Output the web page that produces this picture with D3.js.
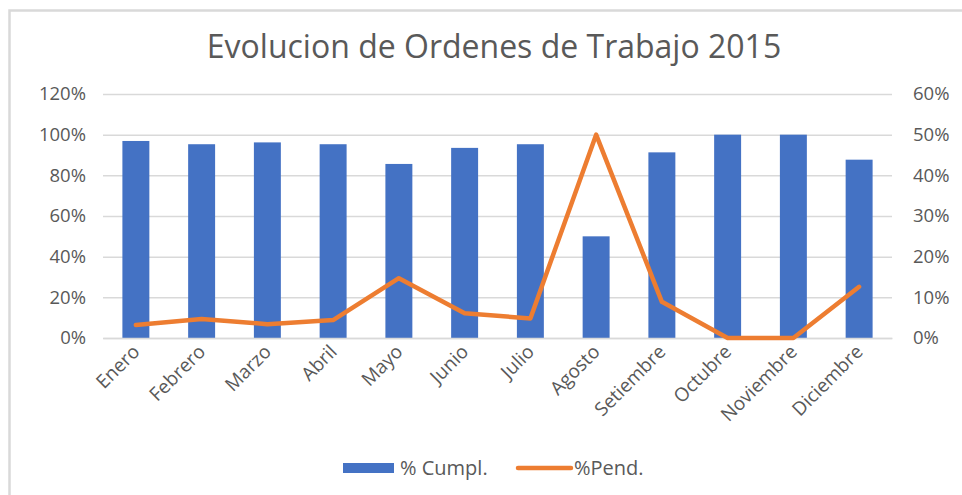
<!DOCTYPE html>
<html>
<head>
<meta charset="utf-8">
<script src="https://cdn.jsdelivr.net/npm/d3@7"></script>
<style>
  body { margin: 0; background: #fff; }
  text { font-family: "Open Sans", sans-serif; fill: #595959; }
</style>
</head>
<body>
<svg id="chart" width="962" height="495"></svg>
<script>
// Data
const months = ['Enero', 'Febrero', 'Marzo', 'Abril', 'Mayo', 'Junio', 'Julio', 'Agosto', 'Setiembre', 'Octubre', 'Noviembre', 'Diciembre'];
const cumpl = [0.969, 0.953, 0.962, 0.953, 0.856, 0.935, 0.953, 0.50, 0.913, 1.0, 1.0, 0.877];
const pend = [0.032, 0.047, 0.034, 0.044, 0.147, 0.061, 0.048, 0.50, 0.089, 0.0, 0.0, 0.126];
const leftTicks = [0, 0.2, 0.4, 0.6, 0.8, 1.0, 1.2];
const rightTicks = [0, 0.1, 0.2, 0.3, 0.4, 0.5, 0.6];

const svg = d3.select('#chart');

// outer frame (only top and left edges are visible)
svg.append('path')
  .attr('d', 'M9.5,1000 L9.5,10.5 L1000,10.5')
  .attr('fill', 'none')
  .attr('stroke', '#d9d9d9')
  .attr('stroke-width', 2.5);

const plot = {left: 103, right: 892, top: 94, bottom: 338};

const x = d3.scaleBand()
  .domain(months)
  .range([plot.left, plot.right])
  .paddingInner(0.59)
  .paddingOuter(0.295);

const yL = d3.scaleLinear().domain([0, 1.2]).range([plot.bottom, plot.top]);
const yR = d3.scaleLinear().domain([0, 0.6]).range([plot.bottom, plot.top]);

// gridlines + left axis
const leftAxis = svg.append('g')
  .attr('transform', `translate(${plot.left},0)`)
  .call(d3.axisLeft(yL).tickValues(leftTicks).tickFormat(d3.format('.0%'))
    .tickSize(-(plot.right - plot.left)).tickPadding(17));
leftAxis.select('.domain').remove();
leftAxis.selectAll('line').attr('stroke', '#d9d9d9').attr('stroke-width', 1.5);
leftAxis.selectAll('text').style('font-size', '18.5px').attr('fill', '#595959');

// right axis
const rightAxis = svg.append('g')
  .attr('transform', `translate(${plot.right},0)`)
  .call(d3.axisRight(yR).tickValues(rightTicks).tickFormat(d3.format('.0%'))
    .tickSize(0).tickPadding(21));
rightAxis.select('.domain').remove();
rightAxis.selectAll('text').style('font-size', '18.5px').attr('fill', '#595959');

// bars
svg.selectAll('.bar')
  .data(months)
  .join('rect')
  .attr('class', 'bar')
  .attr('x', d => x(d))
  .attr('width', x.bandwidth())
  .attr('y', (d, i) => yL(cumpl[i]))
  .attr('height', (d, i) => yL(0) - yL(cumpl[i]))
  .attr('fill', '#4472c4');

// bottom axis
const bottomAxis = svg.append('g')
  .attr('transform', `translate(0,${plot.bottom})`)
  .call(d3.axisBottom(x).tickSize(0).tickPadding(0));
bottomAxis.select('.domain').attr('stroke', '#d9d9d9').attr('stroke-width', 1.5);
bottomAxis.selectAll('text')
  .style('font-size', '19px')
  .attr('fill', '#595959')
  .attr('text-anchor', 'end')
  .attr('dy', 0)
  .attr('transform', 'translate(5,15) rotate(-45)');

// line
const line = d3.line()
  .x((d, i) => x(months[i]) + x.bandwidth() / 2)
  .y(d => yR(d));

svg.append('path')
  .datum(pend)
  .attr('d', line)
  .attr('fill', 'none')
  .attr('stroke', '#ed7d31')
  .attr('stroke-width', 4.5)
  .attr('stroke-linejoin', 'round')
  .attr('stroke-linecap', 'round');

// title
svg.append('text')
  .attr('x', 494)
  .attr('y', 58)
  .attr('text-anchor', 'middle')
  .style('font-size', '32px')
  .text('Evolucion de Ordenes de Trabajo 2015');

// legend
const legend = svg.append('g');
legend.append('rect')
  .attr('x', 343).attr('y', 463).attr('width', 51).attr('height', 10)
  .attr('fill', '#4472c4');
legend.append('text')
  .attr('x', 400).attr('y', 475)
  .style('font-size', '20px')
  .text('% Cumpl.');
legend.append('line')
  .attr('x1', 518).attr('x2', 571).attr('y1', 468).attr('y2', 468)
  .attr('stroke', '#ed7d31').attr('stroke-width', 4.5)
  .attr('stroke-linecap', 'round');
legend.append('text')
  .attr('x', 574).attr('y', 475)
  .style('font-size', '20px')
  .text('%Pend.');
</script>
</body>
</html>
